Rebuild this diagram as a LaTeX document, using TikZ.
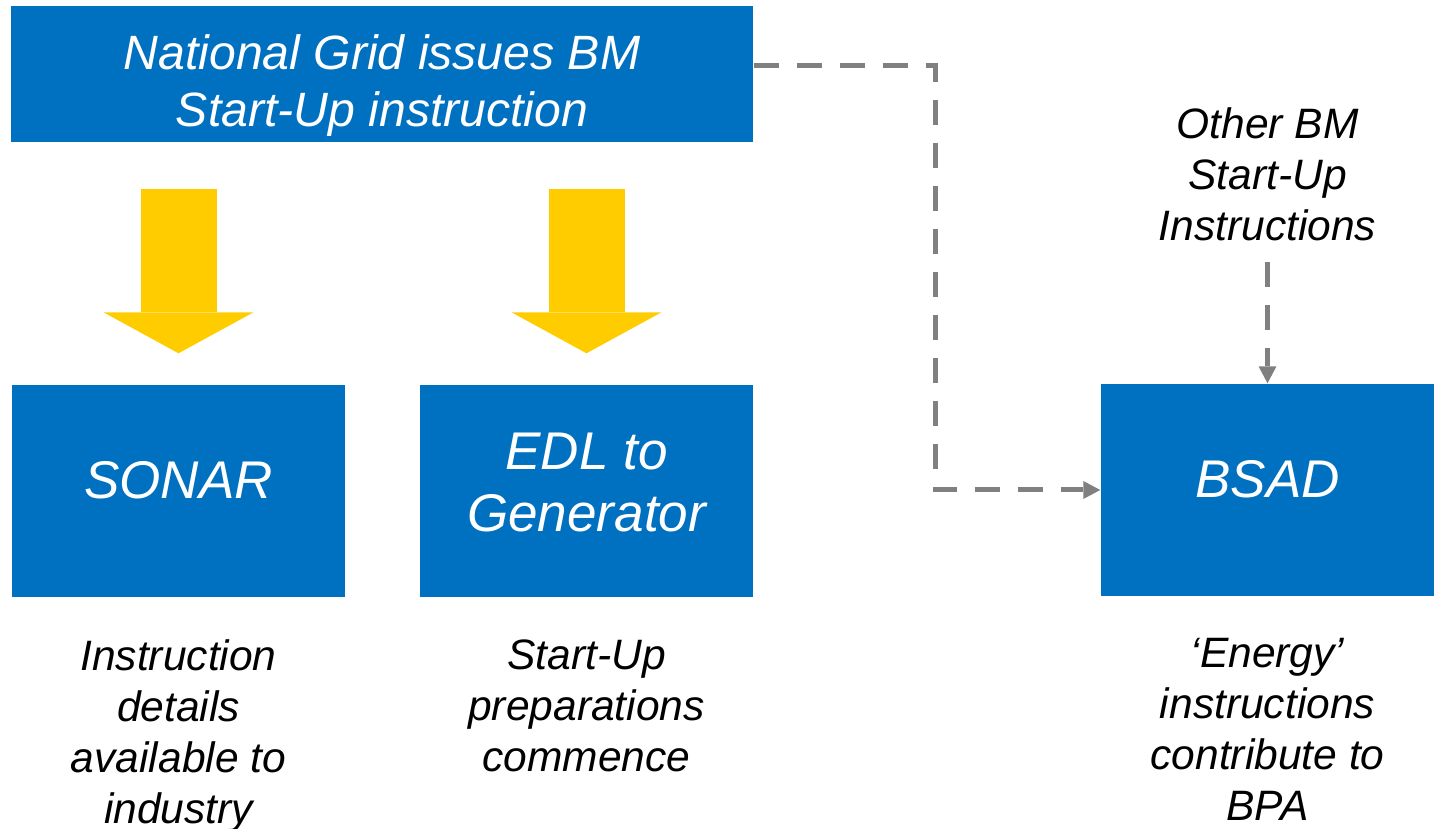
\documentclass[tikz,border=0pt]{standalone}
\usepackage{fontspec}
\setmainfont{Liberation Sans}
\usetikzlibrary{arrows.meta,positioning,calc}
\definecolor{gridblue}{HTML}{0070C0}
\definecolor{startyellow}{HTML}{FFCC00}
\definecolor{linegray}{HTML}{808080}

\begin{document}
\begin{tikzpicture}[
    bluebox/.style={fill=gridblue, text=white, inner sep=0pt, minimum width=3.33cm,
        minimum height=2.12cm, align=center, font=\itshape\fontsize{15.1}{17.9}\selectfont},
    note/.style={inner sep=0pt, align=center, font=\itshape\fontsize{12.1}{14.5}\selectfont},
    bigarrow/.style={draw=startyellow, line width=0.76cm,
        -{Triangle[length=0.41cm, width=1.50cm, line width=0pt]},
        shorten <=0.46cm, shorten >=0.31cm},
    dashline/.style={draw=linegray, line width=0.05cm, dash pattern=on 0.25cm off 0.18cm,
        -{Triangle[length=0.17cm, width=0.18cm, line width=0pt]}}
]
    % Canvas
    \useasboundingbox (0,0) rectangle (14.37,8.28);
    % Blue boxes
    \node [bluebox, minimum width=7.42cm, minimum height=1.36cm,
        text height=1.06cm, text depth=0cm,
        font=\itshape\fontsize{13.7}{16.5}\selectfont] (issue) at (3.82,7.54)
        {National Grid issues BM\\Start-Up instruction};
    \node [bluebox, text height=0.38cm, text depth=0.22cm] (sonar) at (1.785,3.37) {SONAR};
    \node [bluebox, text height=0.98cm, text depth=0.16cm] (edl) at (5.865,3.37) {EDL to\\Generator};
    \node [bluebox, text height=0.38cm, text depth=0.22cm] (bsad) at (12.675,3.38) {BSAD};
    % Notes
    \node [note, below=0.41cm of sonar] (sonarnote) {Instruction\\details\\available to\\industry};
    \node [note, below=0.41cm of edl] (edlnote) {Start-Up\\preparations\\commence};
    \node [note, below=0.41cm of bsad] (bsadnote) {`Energy'\\instructions\\contribute to\\BPA};
    \node [note, above=1.42cm of bsad] (other) {Other BM\\Start-Up\\Instructions};
    % Yellow arrows
    \draw [bigarrow] (issue.south -| sonar) -- (sonar);
    \draw [bigarrow] (issue.south -| edl) -- (edl);
    % Dashed links
    \coordinate (corner) at (9.35,7.62);
    \draw [dashline] ($(issue.east)+(0,0.08)$) -- (corner) |- (bsad.west);
    \draw [dashline, shorten <=0.21cm] (other) -- (bsad);
\end{tikzpicture}
\end{document}
